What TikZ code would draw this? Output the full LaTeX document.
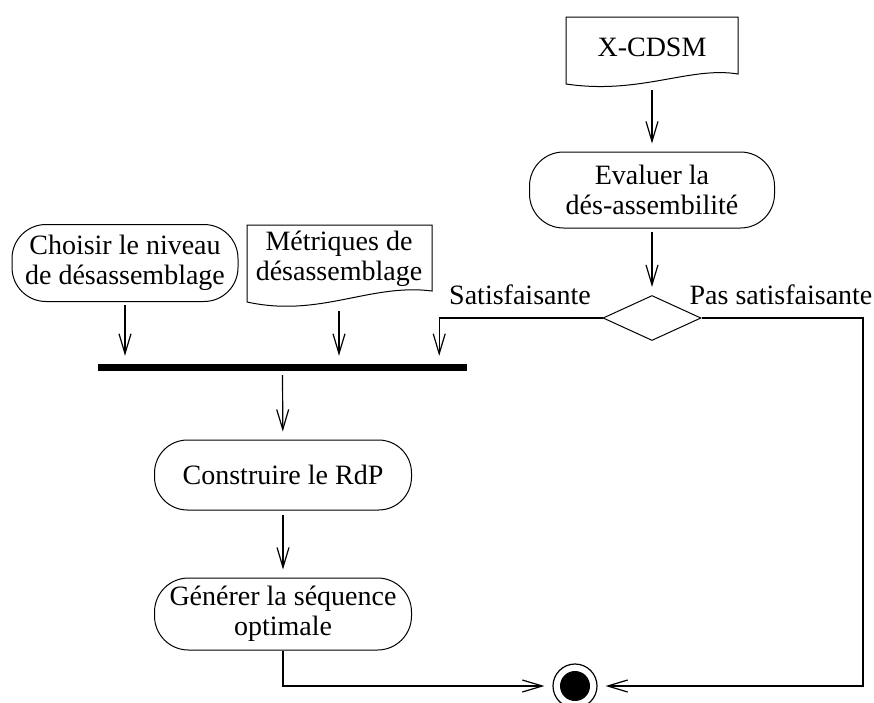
\documentclass[tikz,border=0pt]{standalone}
\usepackage{fontspec}
\setmainfont{Liberation Serif}
\usetikzlibrary{arrows.meta,shapes.geometric}
\begin{document}
\begin{tikzpicture}[x=1pt,y=-1pt,
  every node/.style={font=\fontsize{28}{30}\selectfont, inner sep=0pt},
  act/.style={draw, rounded corners=34pt, line width=1pt, align=center},
  docshape/.style={draw, line width=1pt},
  flow/.style={line width=1.2pt, -{Straight Barb[length=20pt,width=12pt]}, shorten >=8pt},
  plain/.style={line width=1.2pt}
]
\useasboundingbox (0,0) rectangle (874,702);

% document: X-CDSM
\draw[docshape] (566,17) -- (738,17) -- (738,74) .. controls (690,66) and (640,95) .. (566,84) -- cycle;
\node[align=center] (cdsm) at (652,47) {X-CDSM};
\coordinate (cdsmb) at (652,90);

\node[act, minimum width=245pt, minimum height=76pt] (eval) at (652,190) {Evaluer la\\dés-assembilité};
\node[draw, diamond, line width=1pt, minimum width=98pt, minimum height=45pt] (dec) at (652,318) {};

\node (sat) at (520,295) {Satisfaisante};
\node (pas) at (781,295) {Pas satisfaisante};

\node[act, minimum width=226pt, minimum height=77pt] (choisir) at (125,263) {Choisir le niveau\\de désassemblage};

% document: Métriques
\draw[docshape] (247,225) -- (432,225) -- (432,291) .. controls (370,283) and (320,318) .. (247,302) -- cycle;
\node[align=center] (metr) at (339,259) {Métriques de\\désassemblage};
\coordinate (metrb) at (339,311);

\node[fill=black, minimum width=369pt, minimum height=7pt] (bar) at (282.5,367.5) {};

\node[act, rounded corners=33pt, minimum width=257pt, minimum height=70pt] (constr) at (283,475) {Construire le RdP};
\node[act, minimum width=257pt, minimum height=72pt] (gen) at (283,614) {Générer la séquence\\optimale};

\node[circle, draw, line width=1.2pt, minimum size=44pt] (fin) at (575,686) {};
\fill (fin.center) circle (15pt);

\coordinate (rc) at (863,318);

\draw[flow] (cdsmb) -- (eval);
\draw[flow, shorten <=3pt] (eval) -- (dec);
\draw[flow] (dec.west) -| ([xshift=-28pt]bar.north east);
\draw[flow] (dec.east) -- (rc) |- (fin.east);
\draw[flow, shorten <=3pt] (choisir.south) -- (choisir.south |- bar.north);
\draw[flow] (metrb) -- (metrb |- bar.north);
\draw[flow, shorten <=4pt] (bar.south) -- (constr);
\draw[flow, shorten <=4pt] (constr) -- (gen);
\draw[flow] (gen.south) |- (fin.west);
\end{tikzpicture}
\end{document}
